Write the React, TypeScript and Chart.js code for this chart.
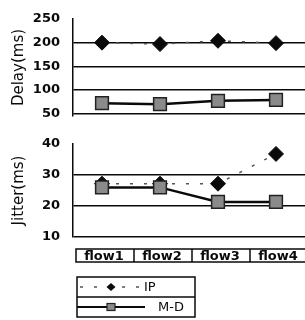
import React, { useEffect, useRef } from "react";
import { Chart, registerables } from "chart.js";

Chart.register(...registerables);

const categories = ["flow1", "flow2", "flow3", "flow4"];
const seriesNames = ["IP", "M-D"];
const delayIP = [200, 197, 204, 199];
const delayMD = [72, 70, 77, 79];
const jitterIP = [27.2, 27.2, 27.2, 36.8];
const jitterMD = [26, 26, 21.3, 21.3];
const delayTicks = [50, 100, 150, 200, 250];
const jitterTicks = [10, 20, 30, 40];

const FONT = "'DejaVu Sans', sans-serif";
const INK = "#0a0a0a";
const GRAY = "#8a8a8a";

function makeOptions(title: string, ticks: number[], min: number, max: number, padTop: number, padBottom: number) {
  const topTick = ticks[ticks.length - 1];
  return {
    animation: false,
    responsive: false,
    maintainAspectRatio: false,
    layout: { autoPadding: false, padding: { top: padTop, bottom: padBottom, left: 0, right: 0 } },
    plugins: { legend: { display: false }, tooltip: { enabled: false } },
    scales: {
      x: { type: "category", offset: true, display: false },
      y: {
        min,
        max,
        afterBuildTicks: (s: any) => {
          s.ticks = ticks.map((v) => ({ value: v }));
        },
        afterFit: (s: any) => {
          s.width = 73;
          s.paddingTop = 0;
          s.paddingBottom = 0;
        },
        border: { display: true, color: INK, width: 1.5 },
        grid: {
          drawTicks: false,
          lineWidth: 1.5,
          color: (c: any) => (c.tick && c.tick.value === topTick ? "rgba(0,0,0,0)" : INK),
        },
        ticks: { padding: 13, color: INK, font: { family: FONT, size: 13, weight: "bold" } },
        title: {
          display: true,
          text: title,
          color: INK,
          padding: { top: 10, bottom: 0 },
          font: { family: FONT, size: 15 },
        },
      },
    },
  };
}

function makeDatasets(ip: number[], md: number[]) {
  return [
    {
      label: seriesNames[0],
      data: ip,
      order: 1,
      borderColor: "#555",
      borderWidth: 1.5,
      borderDash: [3, 11],
      pointStyle: "rectRot",
      pointRadius: 7.5,
      pointBackgroundColor: INK,
      pointBorderColor: INK,
      pointBorderWidth: 1,
    },
    {
      label: seriesNames[1],
      data: md,
      order: 0,
      borderColor: INK,
      borderWidth: 2.5,
      pointStyle: "rect",
      pointRadius: 9,
      pointBackgroundColor: GRAY,
      pointBorderColor: "#222",
      pointBorderWidth: 1.5,
    },
  ];
}

const tableLegendPlugin = {
  id: "tableLegend",
  afterDraw(chart: any) {
    const ctx = chart.ctx;
    const xs = chart.scales.x;
    const half = (xs.getPixelForValue(1) - xs.getPixelForValue(0)) / 2;
    const top = chart.chartArea.bottom + 12;
    const bottom = top + 13;
    ctx.save();
    ctx.strokeStyle = INK;
    ctx.lineWidth = 1.5;
    ctx.strokeRect(xs.getPixelForValue(0) - half + 3, top, chart.width, bottom - top);
    ctx.beginPath();
    for (let i = 1; i < categories.length; i++) {
      const bx = xs.getPixelForValue(i) - half + 3;
      ctx.moveTo(bx, top);
      ctx.lineTo(bx, bottom);
    }
    ctx.stroke();
    ctx.fillStyle = INK;
    ctx.font = `bold 13px ${FONT}`;
    ctx.textAlign = "center";
    ctx.textBaseline = "alphabetic";
    categories.forEach((c, i) => {
      ctx.fillText(c, xs.getPixelForValue(i) + 2, bottom - 2);
    });

    // legend box
    const lx = 77, lw = 118, ly = 149, rowH = 20;
    ctx.lineWidth = 1.5;
    ctx.strokeRect(lx, ly, lw, rowH * 2);
    ctx.beginPath();
    ctx.moveTo(lx, ly + rowH);
    ctx.lineTo(lx + lw, ly + rowH);
    ctx.stroke();

    // IP row
    const y1 = ly + rowH / 2;
    ctx.save();
    ctx.strokeStyle = "#555";
    ctx.lineWidth = 1.5;
    ctx.setLineDash([3, 11]);
    ctx.beginPath();
    ctx.moveTo(lx + 3, y1);
    ctx.lineTo(lx + 66, y1);
    ctx.stroke();
    ctx.restore();
    ctx.fillStyle = INK;
    ctx.beginPath();
    ctx.moveTo(lx + 34 - 4.5, y1);
    ctx.lineTo(lx + 34, y1 - 4);
    ctx.lineTo(lx + 34 + 4.5, y1);
    ctx.lineTo(lx + 34, y1 + 4);
    ctx.closePath();
    ctx.fill();
    ctx.font = `13px ${FONT}`;
    ctx.textAlign = "left";
    ctx.textBaseline = "middle";
    ctx.fillText(seriesNames[0], lx + 67, y1 + 1);

    // M-D row
    const y2 = ly + rowH * 1.5;
    ctx.strokeStyle = INK;
    ctx.lineWidth = 2;
    ctx.beginPath();
    ctx.moveTo(lx, y2);
    ctx.lineTo(lx + 68, y2);
    ctx.stroke();
    ctx.fillStyle = GRAY;
    ctx.strokeStyle = "#222";
    ctx.lineWidth = 1.2;
    ctx.fillRect(lx + 30, y2 - 3.5, 8, 7);
    ctx.strokeRect(lx + 30, y2 - 3.5, 8, 7);
    ctx.fillStyle = INK;
    ctx.fillText(seriesNames[1], lx + 81, y2 + 1);
    ctx.restore();
  },
};

export default function App() {
  const topRef = useRef<HTMLCanvasElement>(null);
  const botRef = useRef<HTMLCanvasElement>(null);

  useEffect(() => {
    const c1 = new Chart(topRef.current as HTMLCanvasElement, {
      type: "line",
      data: { labels: categories, datasets: makeDatasets(delayIP, delayMD) as any },
      options: makeOptions("Delay(ms)", delayTicks, 45, 250, 19, 12) as any,
    });
    const c2 = new Chart(botRef.current as HTMLCanvasElement, {
      type: "line",
      data: { labels: categories, datasets: makeDatasets(jitterIP, jitterMD) as any },
      options: makeOptions("Jitter(ms)", jitterTicks, 10, 40, 16, 83) as any,
      plugins: [tableLegendPlugin],
    });
    return () => {
      c1.destroy();
      c2.destroy();
    };
  }, []);

  return (
    <div style={{ position: "fixed", left: 0, top: 0, width: 305, height: 320, background: "#fff" }}>
      <canvas ref={topRef} width={305} height={128} style={{ position: "absolute", left: 0, top: 0, width: 305, height: 128 }} />
      <canvas ref={botRef} width={305} height={192} style={{ position: "absolute", left: 0, top: 128, width: 305, height: 192 }} />
    </div>
  );
}
